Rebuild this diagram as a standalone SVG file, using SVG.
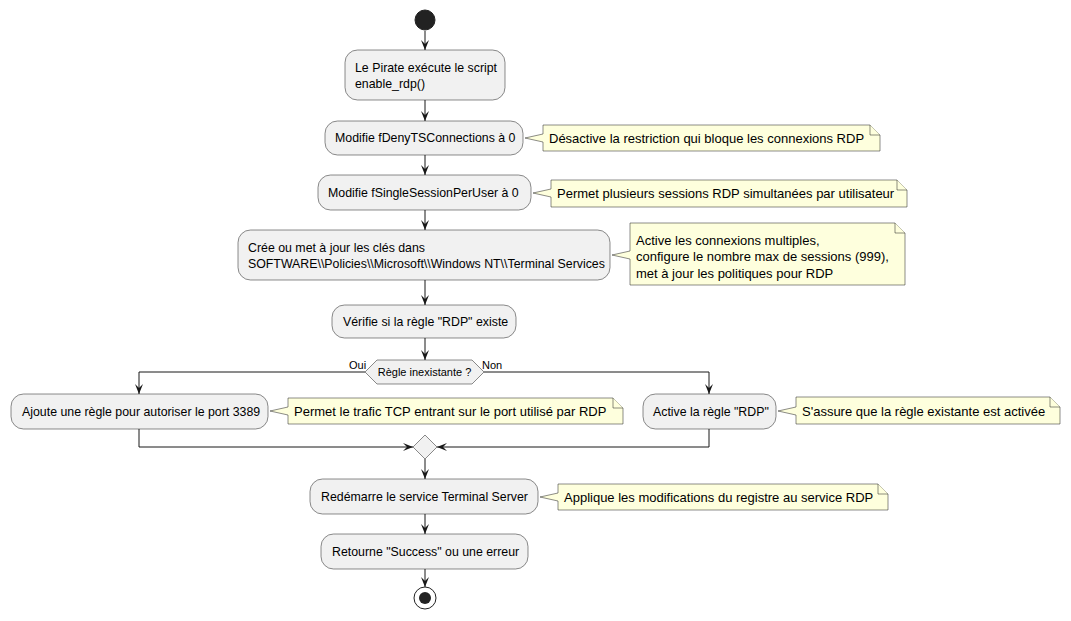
<svg xmlns="http://www.w3.org/2000/svg" width="1071" height="621" viewBox="0 0 1071 621">
<defs>
<style>
.act{fill:#F1F1F1;stroke:#181818;stroke-width:0.5}
.note{fill:#FEFFDD;stroke:#181818;stroke-width:0.5}
.ln{fill:none;stroke:#181818;stroke-width:1}
.t{font-family:"Liberation Sans",Arial,sans-serif;font-size:12.35px;fill:#000}
.tn{font-family:"Liberation Sans",Arial,sans-serif;font-size:13px;fill:#000}
.ts{font-family:"Liberation Sans",Arial,sans-serif;font-size:11px;fill:#000}
</style>
<marker id="ah" viewBox="0 0 10 8" refX="10" refY="4" markerWidth="10" markerHeight="8" orient="auto" markerUnits="userSpaceOnUse">
<path d="M0,0 L10,4 L0,8 L4,4 Z" fill="#181818"/>
</marker>
</defs>
<rect width="1071" height="621" fill="#FFFFFF"/>

<g id="connectors">
<line class="ln" x1="425" y1="31" x2="425" y2="50" marker-end="url(#ah)"/>
<line class="ln" x1="425" y1="100" x2="425" y2="121" marker-end="url(#ah)"/>
<line class="ln" x1="425" y1="155" x2="425" y2="175" marker-end="url(#ah)"/>
<line class="ln" x1="425" y1="210" x2="425" y2="230" marker-end="url(#ah)"/>
<line class="ln" x1="425" y1="280" x2="425" y2="305" marker-end="url(#ah)"/>
<line class="ln" x1="425" y1="338" x2="425" y2="360" marker-end="url(#ah)"/>
<polyline class="ln" points="365,372 139,372 139,394" marker-end="url(#ah)"/>
<polyline class="ln" points="484,372 709,372 709,394" marker-end="url(#ah)"/>
<polyline class="ln" points="139,429 139,447 413,447" marker-end="url(#ah)"/>
<polyline class="ln" points="709,429 709,447 437,447" marker-end="url(#ah)"/>
<line class="ln" x1="425" y1="459" x2="425" y2="479" marker-end="url(#ah)"/>
<line class="ln" x1="425" y1="514" x2="425" y2="534" marker-end="url(#ah)"/>
<line class="ln" x1="425" y1="569" x2="425" y2="587" marker-end="url(#ah)"/>
</g>

<g id="start"><circle cx="425" cy="20" r="10" fill="#222222" stroke="#222222" stroke-width="1"/></g>

<g id="n1">
<rect class="act" x="345" y="50" width="160" height="50" rx="12.5" ry="12.5"/>
<text class="t" x="355" y="72">Le Pirate exécute le script</text>
<text class="t" x="355" y="88">enable_rdp()</text>
</g>

<g id="n2">
<rect class="act" x="325" y="121" width="198" height="34" rx="12.5" ry="12.5"/>
<text class="t" x="335" y="142">Modifie fDenyTSConnections à 0</text>
</g>
<g id="note1">
<path class="note" d="M543,125 L543,134 L525,138 L543,142 L543,151 L880,151 L880,135 L870,125 Z"/>
<path class="note" d="M870,125 L870,135 L880,135"/>
<text class="tn" x="549" y="143">Désactive la restriction qui bloque les connexions RDP</text>
</g>

<g id="n3">
<rect class="act" x="318" y="175" width="213" height="35" rx="12.5" ry="12.5"/>
<text class="t" x="328" y="197">Modifie fSingleSessionPerUser à 0</text>
</g>
<g id="note2">
<path class="note" d="M551,180 L551,189 L533,193 L551,197 L551,207 L907,207 L907,190 L897,180 Z"/>
<path class="note" d="M897,180 L897,190 L907,190"/>
<text class="tn" x="557" y="198">Permet plusieurs sessions RDP simultanées par utilisateur</text>
</g>

<g id="n4">
<rect class="act" x="238" y="230" width="372" height="50" rx="12.5" ry="12.5"/>
<text class="t" x="248" y="252">Crée ou met à jour les clés dans</text>
<text class="t" x="248" y="268">SOFTWARE\\Policies\\Microsoft\\Windows NT\\Terminal Services</text>
</g>
<g id="note3">
<path class="note" d="M630,223 L630,251 L612,255 L630,259 L630,285 L905,285 L905,233 L895,223 Z"/>
<path class="note" d="M895,223 L895,233 L905,233"/>
<text class="tn" x="636" y="245">Active les connexions multiples,</text>
<text class="tn" x="636" y="261">configure le nombre max de sessions (999),</text>
<text class="tn" x="636" y="278">met à jour les politiques pour RDP</text>
</g>

<g id="n5">
<rect class="act" x="332" y="305" width="184" height="33" rx="12.5" ry="12.5"/>
<text class="t" x="343" y="326">Vérifie si la règle "RDP" existe</text>
</g>

<g id="decision">
<polygon class="act" points="365,372 377,360 472,360 484,372 472,384 377,384"/>
<text class="ts" x="424.5" y="376" text-anchor="middle">Règle inexistante ?</text>
<text class="ts" x="349" y="369">Oui</text>
<text class="ts" x="482" y="369">Non</text>
</g>

<g id="n6">
<rect class="act" x="11" y="394" width="257" height="35" rx="12.5" ry="12.5"/>
<text class="t" x="22" y="416">Ajoute une règle pour autoriser le port 3389</text>
</g>
<g id="note4">
<path class="note" d="M288,398 L288,407 L270,411 L288,415 L288,424 L623,424 L623,408 L613,398 Z"/>
<path class="note" d="M613,398 L613,408 L623,408"/>
<text class="tn" x="294" y="416">Permet le trafic TCP entrant sur le port utilisé par RDP</text>
</g>

<g id="n7">
<rect class="act" x="643" y="394" width="133" height="35" rx="12.5" ry="12.5"/>
<text class="t" x="653" y="416">Active la règle "RDP"</text>
</g>
<g id="note5">
<path class="note" d="M796,397 L796,407 L778,411 L796,415 L796,424 L1060,424 L1060,407 L1050,397 Z"/>
<path class="note" d="M1050,397 L1050,407 L1060,407"/>
<text class="tn" x="802" y="416">S'assure que la règle existante est activée</text>
</g>

<g id="merge">
<polygon class="act" points="425,435 437,447 425,459 413,447"/>
</g>

<g id="n8">
<rect class="act" x="310" y="479" width="228" height="35" rx="12.5" ry="12.5"/>
<text class="t" x="321" y="501">Redémarre le service Terminal Server</text>
</g>
<g id="note6">
<path class="note" d="M558,484 L558,493 L540,497 L558,501 L558,510 L888,510 L888,494 L878,484 Z"/>
<path class="note" d="M878,484 L878,494 L888,494"/>
<text class="tn" x="564" y="502">Applique les modifications du registre au service RDP</text>
</g>

<g id="n9">
<rect class="act" x="321" y="534" width="207" height="35" rx="12.5" ry="12.5"/>
<text class="t" x="332" y="556">Retourne "Success" ou une erreur</text>
</g>

<g id="end">
<circle cx="425" cy="598" r="11" fill="none" stroke="#222222" stroke-width="1"/>
<circle cx="425" cy="598" r="6" fill="#222222"/>
</g>
</svg>
